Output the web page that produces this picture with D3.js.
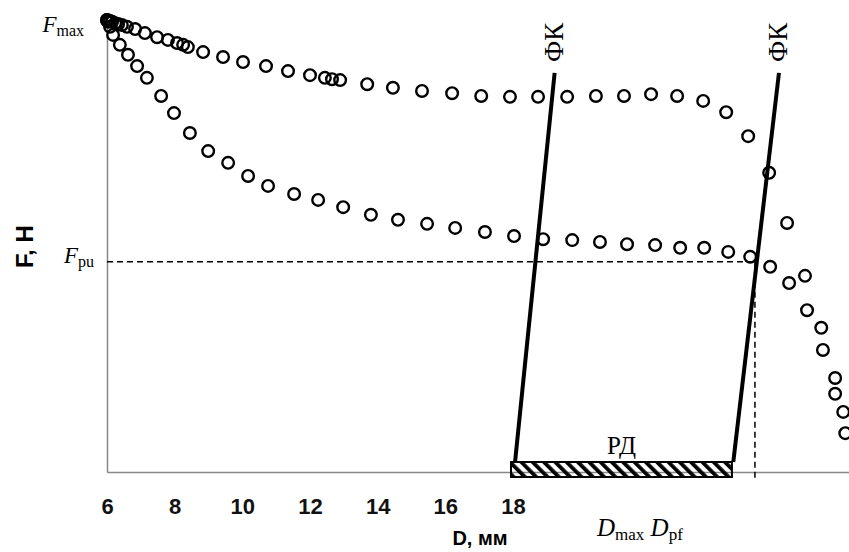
<!DOCTYPE html>
<html>
<head>
<meta charset="utf-8">
<script src="https://cdn.jsdelivr.net/npm/d3@7"></script>
<style>
  body { margin: 0; background: #fff; }
  svg { display: block; }
  .serif { font-family: "Liberation Serif", "Times New Roman", serif; }
</style>
</head>
<body>
<svg id="chart" width="849" height="552"></svg>
<script>
// tick labels on the D axis
const xTicks = [6, 8, 10, 12, 14, 16, 18];

// upper curve (D, mm ; F relative to Fmax)
const upperD = [6.00, 6.03, 6.09, 6.15, 6.24, 6.33, 6.44, 6.59, 6.83, 7.12, 7.48, 7.80, 8.07, 8.25, 8.39,
  8.84, 9.43, 10.02, 10.70, 11.35, 12.00, 12.44, 12.65, 12.89, 13.69, 14.45, 15.31, 16.20, 17.06, 17.91,
  18.74, 19.60, 20.45, 21.28, 22.08, 22.85, 23.62, 24.30, 24.95, 25.57, 26.10, 26.63, 27.11, 27.52, 27.76];
const upperF = [1.000, 0.998, 0.998, 0.996, 0.993, 0.991, 0.989, 0.985, 0.980, 0.971, 0.962, 0.956, 0.949, 0.945, 0.940,
  0.929, 0.918, 0.907, 0.898, 0.887, 0.878, 0.872, 0.869, 0.867, 0.858, 0.850, 0.843, 0.838, 0.832, 0.830,
  0.830, 0.830, 0.832, 0.832, 0.836, 0.832, 0.821, 0.796, 0.743, 0.662, 0.551, 0.434, 0.319, 0.208, 0.133];

// lower curve
const lowerD = [6.00, 6.03, 6.09, 6.18, 6.38, 6.62, 6.89, 7.18, 7.60, 7.98, 8.45, 8.99, 9.58, 10.17, 10.76,
  11.53, 12.24, 12.98, 13.80, 14.60, 15.46, 16.29, 17.17, 18.03, 18.89, 19.75, 20.57, 21.37, 22.20, 22.94,
  23.65, 24.36, 25.01, 25.60, 26.16, 26.69, 27.16, 27.52, 27.82];
const lowerF = [1.000, 0.996, 0.985, 0.967, 0.945, 0.923, 0.898, 0.872, 0.832, 0.794, 0.750, 0.710, 0.684, 0.655, 0.633,
  0.615, 0.602, 0.586, 0.569, 0.558, 0.549, 0.540, 0.531, 0.522, 0.515, 0.513, 0.509, 0.504, 0.502, 0.496,
  0.496, 0.487, 0.476, 0.454, 0.418, 0.358, 0.270, 0.173, 0.086];

// reference levels
const Fmax = 1.0;
const Fpu = 0.465;
const Dpf = 25.15;

// the two ФК lines: [D bottom, D top], [F bottom, F top]
const fkD = [[18.06, 19.23], [24.51, 25.86]];
const fkF = [0.022, 0.883];

// РД working range
const rdRange = [17.94, 24.47];

const svg = d3.select("#chart");
const width = 849;
const height = 552;

const x = d3.scaleLinear().domain([6, 27.93]).range([107, width]);
const y = d3.scaleLinear().domain([0, Fmax]).range([472, 20]);

// hatch for РД bar
svg.append("defs").append("pattern")
    .attr("id", "hatch")
    .attr("patternUnits", "userSpaceOnUse")
    .attr("width", 8)
    .attr("height", 8)
    .attr("patternTransform", "rotate(-45)")
    .append("rect")
    .attr("x", 0).attr("y", 0)
    .attr("width", 3.8).attr("height", 8)
    .attr("fill", "#000");

// axes
const xAxis = d3.axisBottom(x).tickValues(xTicks).tickSize(0).tickPadding(26).tickFormat(d3.format("d"));
const gx = svg.append("g").attr("transform", `translate(0,${y(0)})`).call(xAxis);
gx.select(".domain").attr("stroke", "#888").attr("stroke-width", 1.5);
gx.selectAll("text")
    .attr("font-family", "'Liberation Sans', Arial, sans-serif")
    .attr("font-weight", "bold")
    .attr("font-size", 22)
    .attr("fill", "#111");

const gy = svg.append("g").attr("transform", `translate(${x(6)},0)`)
    .call(d3.axisLeft(y).tickValues([]).tickSize(0));
gy.select(".domain").attr("stroke", "#888").attr("stroke-width", 1.5);

// axis titles
svg.append("text")
    .attr("transform", `translate(33,${(y(Fpu) + y(0.55)) / 2 + 4}) rotate(-90)`)
    .attr("text-anchor", "middle")
    .attr("font-family", "'Liberation Sans', Arial, sans-serif")
    .attr("font-weight", "bold")
    .attr("font-size", 24)
    .text("F, Н");

svg.append("text")
    .attr("x", 480)
    .attr("y", 545)
    .attr("text-anchor", "middle")
    .attr("font-family", "'Liberation Sans', Arial, sans-serif")
    .attr("font-weight", "bold")
    .attr("font-size", 20)
    .text("D, мм");

// dashed guides for Fpu and Dpf
svg.append("line")
    .attr("x1", x(6)).attr("x2", x(Dpf))
    .attr("y1", y(Fpu)).attr("y2", y(Fpu))
    .attr("stroke", "#000").attr("stroke-width", 1.5)
    .attr("stroke-dasharray", "6,4");
svg.append("line")
    .attr("x1", x(Dpf)).attr("x2", x(Dpf))
    .attr("y1", y(Fpu)).attr("y2", y(0) + 6)
    .attr("stroke", "#000").attr("stroke-width", 1.5)
    .attr("stroke-dasharray", "6,4");

// data points
const upper = upperD.map((d, i) => ({ d: d, f: upperF[i] }));
const lower = lowerD.map((d, i) => ({ d: d, f: lowerF[i] }));

svg.append("g")
    .selectAll("circle")
    .data(upper.concat(lower))
    .enter().append("circle")
    .attr("cx", p => x(p.d))
    .attr("cy", p => y(p.f))
    .attr("r", 5.8)
    .attr("fill", "none")
    .attr("stroke", "#000")
    .attr("stroke-width", 2.4);

// ФК lines
svg.append("g")
    .selectAll("line")
    .data(fkD)
    .enter().append("line")
    .attr("x1", d => x(d[0])).attr("y1", y(fkF[0]))
    .attr("x2", d => x(d[1])).attr("y2", y(fkF[1]))
    .attr("stroke", "#000")
    .attr("stroke-width", 4);

svg.append("g")
    .selectAll("text")
    .data(fkD)
    .enter().append("text")
    .attr("class", "serif")
    .attr("transform", d => `translate(${x(d[1]) + 8},62) rotate(-90)`)
    .attr("font-size", 27)
    .text("ФК");

// РД bar
svg.append("rect")
    .attr("x", x(rdRange[0]))
    .attr("y", y(0) - 10)
    .attr("width", x(rdRange[1]) - x(rdRange[0]))
    .attr("height", 15)
    .attr("fill", "url(#hatch)")
    .attr("stroke", "#000")
    .attr("stroke-width", 2);

svg.append("text")
    .attr("class", "serif")
    .attr("x", (x(rdRange[0]) + x(rdRange[1])) / 2)
    .attr("y", 454)
    .attr("text-anchor", "middle")
    .attr("font-size", 25)
    .text("РД");

// F labels
const fLabel = (t, sub, xr, yb) => {
    const txt = svg.append("text").attr("class", "serif")
        .attr("x", xr).attr("y", yb).attr("text-anchor", "end");
    txt.append("tspan").attr("font-style", "italic").attr("font-size", 23).text(t);
    txt.append("tspan").attr("font-size", 16).attr("dy", 4).text(sub);
};
fLabel("F", "max", 84, y(Fmax) + 12);
fLabel("F", "pu", 94, y(Fpu) + 1);

// D labels
const dl = svg.append("text").attr("class", "serif").attr("x", 597).attr("y", 536);
dl.append("tspan").attr("font-style", "italic").attr("font-size", 25).text("D");
dl.append("tspan").attr("font-size", 17).attr("dy", 4).text("max");
dl.append("tspan").attr("font-size", 25).attr("dy", -4).text(" ");
dl.append("tspan").attr("font-style", "italic").attr("font-size", 25).text("D");
dl.append("tspan").attr("font-size", 17).attr("dy", 4).text("pf");
</script>
</body>
</html>
